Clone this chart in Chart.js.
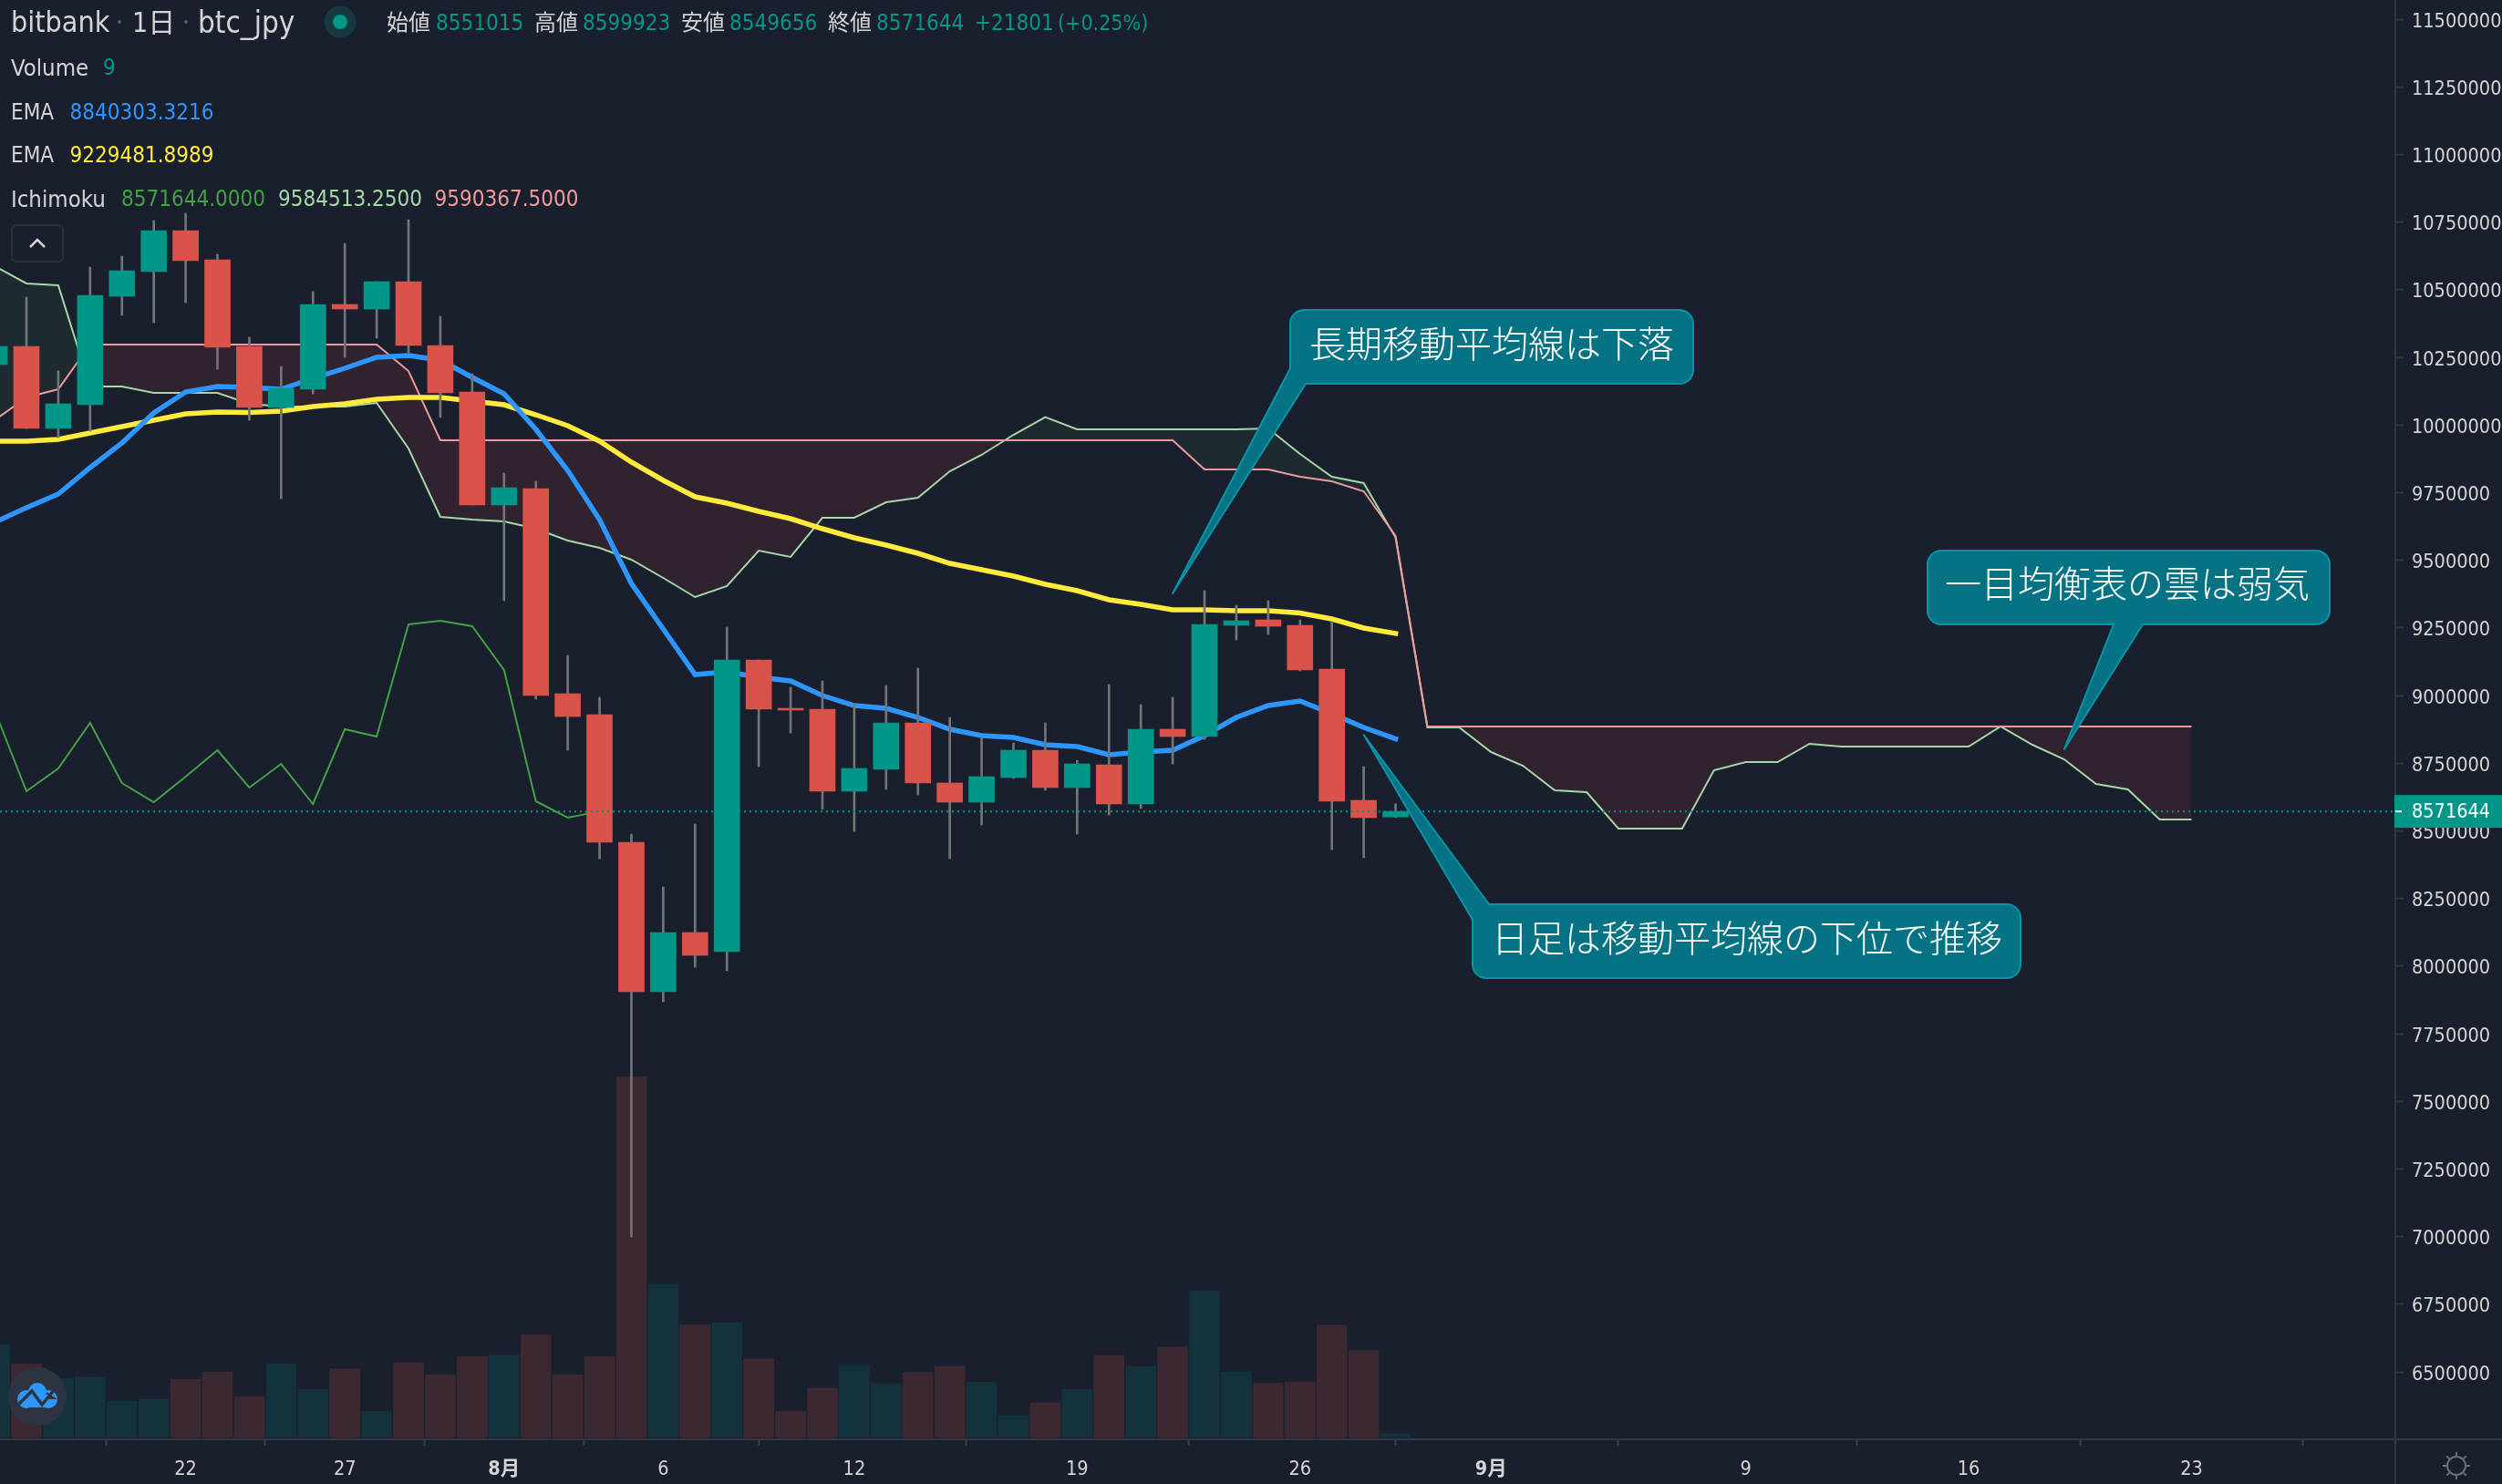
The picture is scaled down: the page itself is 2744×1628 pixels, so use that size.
<!DOCTYPE html>
<html lang="ja">
<head>
<meta charset="utf-8">
<title>bitbank btc_jpy</title>
<style>
html,body{margin:0;padding:0;background:#191f2c;overflow:hidden}
canvas{display:block}
</style>
<script src="https://cdn.jsdelivr.net/npm/chart.js@4/dist/chart.umd.js"></script>
</head>
<body>
<canvas id="c" width="2744" height="1628" style="width:2744px;height:1628px"></canvas>
<script>
// Day offsets are counted from 22 July; first visible candle is day -6.
const firstDay = -6;
const opens  = [10223035,10290421,9987184,10074786,10475733,10566704,10718322,10610504,10290421,10064678,10132064,10445409,10428562,10529641,10293790,10121956,9704163,9764810,9006718,8929224,8457522,7904957,8123961,8053206,9131382,8952809,8949440,8646203,8727066,8898900,8676526,8605771,8696742,8797821,8659680,8743912,8599032,8875315,8848361,9259415,9279631,9259415,9097689,8612510,8551015];
const closes = [10290421,9987184,10078155,10479102,10570073,10718322,10607135,10287052,10064678,10135433,10445409,10428562,10529641,10293790,10118587,9704163,9768179,8999979,8922485,8457522,7904957,8123961,8039729,9131382,8949440,8946070,8646203,8730435,8898900,8676526,8605771,8700111,8797821,8659680,8747282,8599032,8875315,8848361,9262784,9276262,9256046,9094319,8609140,8548493,8571644];
const highs  = [10290421,10472363,10199450,10583550,10623982,10755384,10782339,10630720,10324114,10216296,10492579,10671152,10529641,10758754,10401608,10189342,9822088,9791765,9148228,8993240,8487845,8292426,8524908,9252677,9131382,9030303,9053888,8969655,9037041,9101058,8919116,8844991,8824775,8898900,8759759,9040411,8966286,8993240,9387449,9333540,9350386,9279631,9272892,8737174,8599923];
const lows   = [10223035,9987184,9953491,9977076,10404977,10378023,10452147,10206188,10017508,9727748,10115217,10249989,10320745,10266836,10027616,9704163,9350386,8986502,8797821,8396874,6998615,7867894,7995928,7982450,8737174,8861838,8578817,8497953,8652941,8632725,8396874,8521538,8693373,8649572,8487845,8558601,8582186,8747282,8838253,9205506,9225722,9090950,8430567,8400244,8549656];
const volumes= [230,182,146,149,90,95,144,162,101,182,119,169,65,185,155,200,203,254,155,200,891,378,279,284,194,65,122,178,133,160,176,137,54,86,119,203,176,223,362,162,135,137,277,214,9];
const emaFast= [9640146,9694055,9744594,9842304,9933275,10044462,10121956,10142172,10138802,10132064,10172495,10209558,10249989,10256728,10239881,10175865,10115217,9983815,9832196,9650254,9414403,9245938,9077473,9087581,9067365,9053888,8999979,8962917,8952809,8919116,8875315,8851730,8844991,8818037,8811298,8780975,8791082,8797821,8851730,8919116,8962917,8979763,8932593,8882054,8840303];
const emaSlow= [9940014,9940014,9946752,9970337,9993923,10017508,10041093,10047831,10046147,10051201,10068047,10078155,10095002,10101740,10101740,10088263,10074786,10037723,9997292,9940014,9862520,9795134,9734486,9710901,9680578,9653623,9616561,9582868,9555914,9525590,9488528,9464942,9441357,9411034,9387449,9353756,9336909,9316693,9316693,9313324,9313324,9304901,9283000,9249307,9229482];
const chikou = [8946070,8646203,8730435,8898900,8676526,8605771,8700111,8797821,8659680,8747282,8599032,8875315,8848361,9262784,9276262,9256046,9094319,8609140,8548493,8571644];
const senkouA= [10586919,10522903,10516164,10142172,10142172,10118587,10118587,10118587,10078155,10068047,10068047,10068047,10081524,9913059,9660362,9650254,9643515,9616561,9572760,9545806,9502005,9434619,9363863,9404295,9535698,9512113,9656993,9656993,9714271,9731117,9828827,9889474,9963599,10029300,9983815,9983815,9983815,9983815,9983815,9983815,9987184,9892844,9808611,9785026,9584513,8882054,8882054,8791082,8740543,8649572,8642833,8508061,8508061,8508061,8723696,8754020,8754020,8821406,8811298,8811298,8811298,8811298,8811298,8885423,8818037,8764128,8673157,8652941,8541754,8541754];
const senkouB= [10017508,10101740,10132064,10297160,10297160,10297160,10297160,10297160,10297160,10297160,10297160,10297160,10297160,10199450,9943383,9943383,9943383,9943383,9943383,9943383,9943383,9943383,9943383,9943383,9943383,9943383,9943383,9943383,9943383,9943383,9943383,9943383,9943383,9943383,9943383,9943383,9943383,9943383,9835565,9835565,9835565,9808611,9791765,9754702,9590367,8885423,8885423,8885423,8885423,8885423,8885423,8885423,8885423,8885423,8885423,8885423,8885423,8885423,8885423,8885423,8885423,8885423,8885423,8885423,8885423,8885423,8885423,8885423,8885423,8885423];
const tickDays   = [0,5,10,15,21,28,35,41,49,56,63];
const tickLabels = ['22','27','8月','6','12','19','26','9月','9','16','23'];
const priceTicks = [6500000,6750000,7000000,7250000,7500000,7750000,8000000,8250000,8500000,8750000,9000000,9250000,9500000,9750000,10000000,10250000,10500000,10750000,11000000,11250000,11500000];
const lastPrice = 8571644;
const callouts = [
  {text:'長期移動平均線は下落', day:31, price:9377341},
  {text:'日足は移動平均線の下位で推移', day:37, price:8855099},
  {text:'一目均衡表の雲は弱気', day:59, price:8801190}
];

const BG='#191f2c', UP='#009688', DOWN='#da534b', VOL_UP='#14323c', VOL_DOWN='#3c2831', WICK='#737578', AXIS='#323744';
const TXT='#d4d4d4';
const UI='"DejaVu Sans Condensed","DejaVu Sans","Noto Sans CJK JP",sans-serif';
const CJK='"Noto Sans CJK JP",sans-serif';
const isUp = opens.map((o,i)=>closes[i]>=o);
const dayOf = i => firstDay+i;
const series = arr => arr.map((v,i)=>({x:dayOf(i),y:v}));

function rr(ctx,x,y,w,h,r){ctx.beginPath();ctx.roundRect(x,y,w,h,r);}
function text(ctx,s,x,y,color,font,align){
  ctx.fillStyle=color;ctx.font=font;ctx.textBaseline='middle';ctx.textAlign=align||'left';ctx.fillText(s,x,y);
}
function noMargins(s){s.paddingTop=0;s.paddingBottom=0;s.paddingLeft=0;s.paddingRight=0;}
// box pixel layouts for the three callouts, in the same order as callouts[]
const boxes=[
 {x:1415,y:340,w:442,h:81,tx:1436,ty:377,base:[[1415,404],[1432,421]]},
 {x:1615,y:992,w:601,h:81,tx:1636,ty:1029,base:[[1615,1009],[1633,992]]},
 {x:2114,y:604,w:441,h:81,tx:2133,ty:640,base:[[2318,685],[2350,685]]}
];
let labelsNudged=false;
const overlay={
 id:'overlay',
 beforeDraw(chart){
  const c=chart.ctx;c.save();c.fillStyle=BG;c.fillRect(0,0,chart.width,chart.height);c.restore();
  if(!labelsNudged){ // price labels sit slightly below their tick marks
    chart.scales.y.getLabelItems().forEach(it=>{it.options.translation[1]+=3;});
    labelsNudged=true;
  }
 },
 afterDatasetsDraw(chart){
  const c=chart.ctx,ys=chart.scales.y,xs=chart.scales.x,a=chart.chartArea;
  const ly=ys.getPixelForValue(lastPrice);
  c.save();
  // last price line
  c.strokeStyle='#009688';c.lineWidth=2;c.setLineDash([2,4]);
  c.beginPath();c.moveTo(0,ly);c.lineTo(a.right,ly);c.stroke();c.setLineDash([]);
  // callouts
  callouts.forEach((k,i)=>{
    const b=boxes[i],tx=xs.getPixelForValue(k.day),ty=ys.getPixelForValue(k.price);
    const r=15,[p,q]=b.base,R=b.x+b.w,B=b.y+b.h;
    c.beginPath();
    if(i===0){ // tail from bottom-left corner
      c.moveTo(b.x+r,b.y);c.lineTo(R-r,b.y);c.arcTo(R,b.y,R,b.y+r,r);c.lineTo(R,B-r);c.arcTo(R,B,R-r,B,r);
      c.lineTo(q[0],q[1]);c.lineTo(tx,ty);c.lineTo(p[0],p[1]);c.lineTo(b.x,b.y+r);c.arcTo(b.x,b.y,b.x+r,b.y,r);
    }else if(i===1){ // tail from top-left corner
      c.moveTo(q[0],q[1]);c.lineTo(R-r,b.y);c.arcTo(R,b.y,R,b.y+r,r);c.lineTo(R,B-r);c.arcTo(R,B,R-r,B,r);
      c.lineTo(b.x+r,B);c.arcTo(b.x,B,b.x,B-r,r);c.lineTo(p[0],p[1]);c.lineTo(tx,ty);
    }else{ // tail from bottom edge
      c.moveTo(b.x+r,b.y);c.lineTo(R-r,b.y);c.arcTo(R,b.y,R,b.y+r,r);c.lineTo(R,B-r);c.arcTo(R,B,R-r,B,r);
      c.lineTo(q[0],q[1]);c.lineTo(tx,ty);c.lineTo(p[0],p[1]);c.lineTo(b.x+r,B);c.arcTo(b.x,B,b.x,B-r,r);c.lineTo(b.x,b.y+r);c.arcTo(b.x,b.y,b.x+r,b.y,r);
    }
    c.closePath();
    c.fillStyle='#067384';c.fill();
    c.strokeStyle='#0a93a8';c.lineWidth=2;c.lineJoin='round';c.stroke();
    text(c,k.text,b.tx,b.ty,'#ffffff','300 40px '+CJK);
  });
  // axis extensions
  c.fillStyle=AXIS;
  c.fillRect(a.right,a.bottom-1,chart.width-a.right,2);
  c.fillRect(a.right-1,a.bottom,2,chart.height-a.bottom);
  // last price tag
  c.fillStyle=UP;c.fillRect(a.right-1,ly-18,chart.width-a.right+1,36);
  c.fillStyle='#ffffff';c.fillRect(a.right,ly-1,7,2);
  text(c,String(lastPrice),2645,ly+1,'#ffffff','21.5px '+UI);
  // settings icon
  const gx=2694,gy=1608;c.strokeStyle='#6b6f75';c.lineWidth=2;
  c.beginPath();c.arc(gx,gy,10,0,Math.PI*2);c.stroke();
  for(let t=0;t<8;t++){const an=t*Math.PI/4;c.beginPath();c.moveTo(gx+Math.cos(an)*11,gy+Math.sin(an)*11);c.lineTo(gx+Math.cos(an)*15,gy+Math.sin(an)*15);c.stroke();}
  // logo
  c.fillStyle='#2e343f';c.beginPath();c.arc(41,1532,32,0,Math.PI*2);c.fill();
  c.fillStyle='#2e96ff';
  c.beginPath();c.arc(41,1527,10,0,Math.PI*2);c.arc(29,1535,10,0,Math.PI*2);c.arc(53,1535,10,0,Math.PI*2);c.fill();
  c.fillRect(29,1530,24,14);
  c.strokeStyle='#2e343f';c.lineWidth=3.5;c.lineJoin='miter';
  c.beginPath();c.moveTo(20,1541);c.lineTo(35,1526);c.lineTo(46,1541);c.lineTo(60,1524);c.stroke();
  // header row
  c.fillStyle='#5b6068';
  c.beginPath();c.arc(131,24,2,0,Math.PI*2);c.arc(204,24,2,0,Math.PI*2);c.fill();
  text(c,'bitbank',12,27,TXT,'32px '+UI);
  text(c,'1日',145,27,TXT,'30px '+UI);
  text(c,'btc_jpy',217,27,TXT,'33px '+UI);
  c.fillStyle='#16383f';c.beginPath();c.arc(373,24,17.5,0,Math.PI*2);c.fill();
  c.fillStyle=UP;c.beginPath();c.arc(373,24,8,0,Math.PI*2);c.fill();
  const f='24px '+UI, fl='25.5px '+UI;
  [['始値',424,TXT],['8551015',478,UP],['高値',586,TXT],['8599923',639,UP],['安値',747,TXT],['8549656',800,UP],['終値',908,TXT],['8571644',961,UP],['+21801',1069,UP]]
    .forEach(r=>text(c,r[0],r[1],27,r[2],f));
  text(c,'(+0.25%)',1160,27,UP,'23px '+UI);
  text(c,'Volume',12,76,TXT,fl);text(c,'9',113,76,UP,f);
  text(c,'EMA',12,124.5,TXT,f);text(c,'8840303.3216',76.5,124.5,'#2e96ff',f);
  text(c,'EMA',12,172,TXT,f);text(c,'9229481.8989',76.5,172,'#ffeb3b',f);
  text(c,'Ichimoku',12,220,TXT,fl);
  text(c,'8571644.0000',133,220,'#43a047',f);
  text(c,'9584513.2500',305,220,'#a5d6a7',f);
  text(c,'9590367.5000',476.5,220,'#ef9a9a',f);
  // collapse button
  c.strokeStyle='#2b303c';c.lineWidth=2;rr(c,13,247,56,40,5);c.stroke();
  c.strokeStyle='#d4d4d4';c.lineWidth=2.5;c.lineJoin='miter';
  c.beginPath();c.moveTo(33,271);c.lineTo(41,263);c.lineTo(49,271);c.stroke();
  c.restore();
 }
};

new Chart(document.getElementById('c'),{
 data:{datasets:[
  {type:'bar',label:'Volume',yAxisID:'vol',order:100,grouped:false,barThickness:33,borderWidth:0,
   data:series(volumes),backgroundColor:isUp.map(u=>u?VOL_UP:VOL_DOWN)},
  {type:'line',label:'Senkou A',order:90,data:series(senkouA),borderColor:'#a5d6a7',borderWidth:2,pointRadius:0,tension:0,
   fill:{target:2,above:'#1d2a30',below:'#30222e'}},
  {type:'line',label:'Senkou B',order:89,data:series(senkouB),borderColor:'#ef9a9a',borderWidth:2,pointRadius:0,tension:0,fill:false},
  {type:'line',label:'Chikou',order:80,data:series(chikou),borderColor:'#43a047',borderWidth:2,pointRadius:0,tension:0,fill:false},
  {type:'line',label:'EMA slow',order:70,data:series(emaSlow),borderColor:'#ffeb3b',borderWidth:5.5,borderCapStyle:'square',pointRadius:0,tension:0,fill:false},
  {type:'line',label:'EMA fast',order:60,data:series(emaFast),borderColor:'#2e96ff',borderWidth:5.5,borderCapStyle:'square',pointRadius:0,tension:0,fill:false},
  {type:'bar',label:'Wicks',order:50,grouped:false,barThickness:2,borderWidth:0,
   data:lows.map((l,i)=>({x:dayOf(i),y:[l,highs[i]]})),backgroundColor:WICK},
  {type:'bar',label:'Candles',order:40,grouped:false,barThickness:28,borderWidth:0,
   data:opens.map((o,i)=>({x:dayOf(i),y:[o,closes[i]]})),backgroundColor:isUp.map(u=>u?UP:DOWN)}
 ]},
 options:{
  responsive:false,devicePixelRatio:1,animation:false,
  layout:{padding:0},
  plugins:{legend:{display:false},tooltip:{enabled:false},title:{display:false}},
  scales:{
   x:{type:'linear',min:-5.83,max:69.4,offset:false,position:'bottom',
      afterFit(s){s.height=49;noMargins(s);},
      afterBuildTicks(s){s.ticks=tickDays.map(v=>({value:v}));},
      border:{display:true,color:AXIS,width:2},
      grid:{display:true,drawOnChartArea:false,drawTicks:true,tickLength:7,tickColor:'#3a3f4c',tickWidth:2},
      ticks:{autoSkip:false,maxRotation:0,minRotation:0,padding:14,color:TXT,
        font:(ctx)=>{const v=ctx.tick?ctx.tick.value:0;return {family:UI,size:21.5,weight:(v===10||v===41)?'bold':'normal'};},
        callback:(v)=>tickLabels[tickDays.indexOf(v)]}},
   y:{type:'linear',position:'right',min:6250674,max:11570755,
      afterFit(s){s.width=117;noMargins(s);},
      afterBuildTicks(s){s.ticks=priceTicks.map(v=>({value:v}));},
      border:{display:true,color:AXIS,width:2},
      grid:{display:true,drawOnChartArea:false,drawTicks:true,tickLength:9,tickColor:'#323744',tickWidth:2},
      ticks:{autoSkip:false,padding:9,color:TXT,font:{family:UI,size:21.5},callback:v=>String(v)}},
   vol:{type:'linear',display:false,position:'left',min:-4.5,max:3548}
  }
 },
 plugins:[overlay]
});
</script>
</body>
</html>
